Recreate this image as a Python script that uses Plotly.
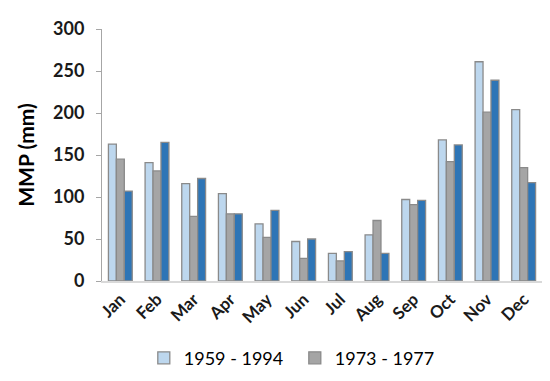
import plotly.graph_objects as go

months = ["Jan", "Feb", "Mar", "Apr", "May", "Jun", "Jul", "Aug", "Sep", "Oct", "Nov", "Dec"]
series_a_name = "1959 - 1994"
series_a = [163, 141, 116, 104, 68, 47, 33, 55, 97, 168, 261, 204]
series_b_name = "1973 - 1977"
series_b = [145, 131, 77, 80, 52, 27, 24, 72, 91, 142, 201, 135]
series_c_name = "Series 3"
series_c = [107, 165, 122, 80, 84, 50, 35, 33, 96, 162, 239, 117]
y_ticks = [0, 50, 100, 150, 200, 250, 300]

outline = dict(color="#8a8a8a", width=1.3)
fig = go.Figure()
fig.add_bar(x=months, y=series_a, name=series_a_name, marker=dict(color="#bdd7ee", line=outline))
fig.add_bar(x=months, y=series_b, name=series_b_name, marker=dict(color="#a5a5a5", line=outline))
fig.add_bar(x=months, y=series_c, name=series_c_name, showlegend=False,
            marker=dict(color="#2e75b6", line=outline))

fig.update_layout(
    width=550, height=381,
    margin=dict(l=94, r=16, t=21, b=99),
    paper_bgcolor="white", plot_bgcolor="white",
    barmode="group", bargap=0.35, bargroupgap=0,
    font=dict(family="Lato", color="#000000"),
    legend=dict(orientation="h", x=0.095, xanchor="left", y=-0.306, yanchor="middle",
                font=dict(size=18, family="Lato"), itemwidth=30, traceorder="normal",
                entrywidth=106, entrywidthmode="pixels"),
    showlegend=True,
)
fig.update_yaxes(
    range=[0, 300], tickvals=y_ticks, showgrid=False, automargin=False,
    showline=True, linecolor="#a6a6a6", linewidth=1,
    ticks="outside", ticklen=5, tickcolor="#a6a6a6", ticklabelstandoff=8,
    tickfont=dict(size=18, family="Lato", weight="bold", color="#1a1a1a"),
    title=dict(text="<b>MMP (mm)</b>", font=dict(size=21, family="Lato"), standoff=12),
    zeroline=False,
)
fig.update_xaxes(
    showline=True, linecolor="#d9d9d9", linewidth=1.5, automargin=False,
    tickangle=-45, ticks="",
    tickfont=dict(size=17, family="Lato", weight="bold", color="#1a1a1a"),
)
fig.write_html("out.html")
